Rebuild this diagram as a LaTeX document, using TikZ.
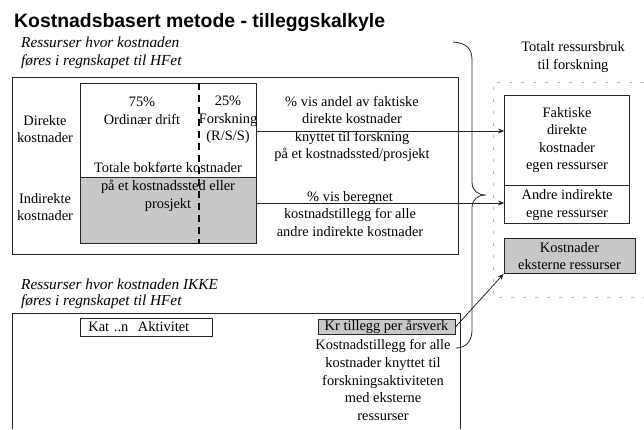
\documentclass[tikz,border=0pt]{standalone}
\usepackage{fontspec}
\setmainfont{Liberation Serif}
\newfontfamily\titlefont{Liberation Sans}
\usetikzlibrary{arrows.meta}
\begin{document}
\begin{tikzpicture}[x=1pt,y=-1pt,
  txt/.style={font=\fontsize{14.4}{17.6}\selectfont, align=center, inner sep=0pt},
  itl/.style={font=\fontsize{15.3}{17}\selectfont\itshape, align=left, inner sep=0pt, anchor=base west},
  frame/.style={draw=black!85, line width=0.8pt},
  shade/.style={fill=black!22},
  arr/.style={draw=black!85, line width=0.8pt, -{Stealth[length=6pt,width=5pt]}},
  faint/.style={draw=black!28, line width=0.5pt, dash pattern=on 3pt off 9pt}]
\useasboundingbox (0,0) rectangle (644,429);

% title and headings
\node[anchor=base west, inner sep=0pt, font=\titlefont\bfseries\fontsize{19.4}{21}\selectfont] (title) at (14,27) {Kostnadsbasert metode - tilleggskalkyle};
\node[itl] (h1a) at (21,47) {Ressurser hvor kostnaden};
\node[itl] (h1b) at (21,65) {føres i regnskapet til HFet};
\node[itl] (h2a) at (21,289) {Ressurser hvor kostnaden IKKE};
\node[itl] (h2b) at (21,305) {føres i regnskapet til HFet};

% upper frame with the cost table
\draw[frame] (12,77) rectangle (458,254);
\fill[shade] (80,177) rectangle (256,243);
\node[frame, minimum width=176, minimum height=160, inner sep=0pt] (tbl) at (168,163) {};
\draw[frame] (80,177) -- (256,177);
\draw[black, line width=1.8pt, dash pattern=on 7pt off 5pt] (199,83) -- (199,243);

\node[txt] (dir) at (45,129) {Direkte\\kostnader};
\node[txt] (ind) at (45,207) {Indirekte\\kostnader};
\node[txt] (ord) at (142,111) {75\%\\Ordinær drift};
\node[txt] (fou) at (228,120) {25\%\\Forskning\\(R/S/S)};
\node[txt] (tot) at (168,187) {Totale bokførte kostnader\\på et kostnadssted eller\\prosjekt};

\node[txt] (pv1) at (352,129) {\% vis andel av faktiske\\direkte kostnader\\knyttet til forskning\\på et kostnadssted/prosjekt};
\node[txt] (pv2) at (350,214) {\% vis beregnet\\kostnadstillegg for alle\\andre indirekte kostnader};

% right column
\draw[faint] (644,82) -- (493,82) -- (493,297) -- (644,297);
\node[txt] (tr) at (573,57) {Totalt ressursbruk\\til forskning};
\node[frame, txt, minimum width=125, minimum height=90] (fak) at (567,140) {Faktiske\\direkte\\kostnader\\egen ressurser};
\node[frame, txt, minimum width=125, minimum height=38, anchor=north] (and) at (fak.south) {Andre indirekte\\egne ressurser};
\node[frame, shade, txt, minimum width=131, minimum height=35] (ekst) at (569.5,256) {Kostnader\\eksterne ressurser};

% large brace
\draw[black!85, line width=0.8pt] (453,42) .. controls (467,43) and (472,49) .. (472,60)
  -- (472,182) .. controls (472,191) and (478,195) .. (486,195)
  .. controls (478,195) and (472,199) .. (472,208)
  -- (472,330) .. controls (472,341) and (466,348) .. (456,348);

% arrows from the table rows
\coordinate (r1) at (tbl.east |- 0,131);
\coordinate (r2) at (tbl.east |- 0,203);
\draw[arr] (r1) -- (r1 -| fak.west);
\draw[arr] (r2) -- (r2 -| and.west);

% lower frame
\draw[frame] (12,429) -- (12,313) -- (460,313) -- (460,429);
\node[frame, txt, anchor=west, minimum height=18, text width=116, align=left, inner xsep=8pt] (kat) at (80,327) {Kat ..n\ \ Aktivitet};
\node[frame, shade, txt, inner xsep=2pt, inner ysep=1pt, minimum width=137] (kr) at (386.5,327) {Kr tillegg per årsverk};
\node[txt] (kt) at (383,380) {Kostnadstillegg for alle\\kostnader knyttet til\\forskningsaktiviteten\\med eksterne\\ressurser};
\draw[arr] (kr.east) -- (ekst.south west);
\end{tikzpicture}
\end{document}
